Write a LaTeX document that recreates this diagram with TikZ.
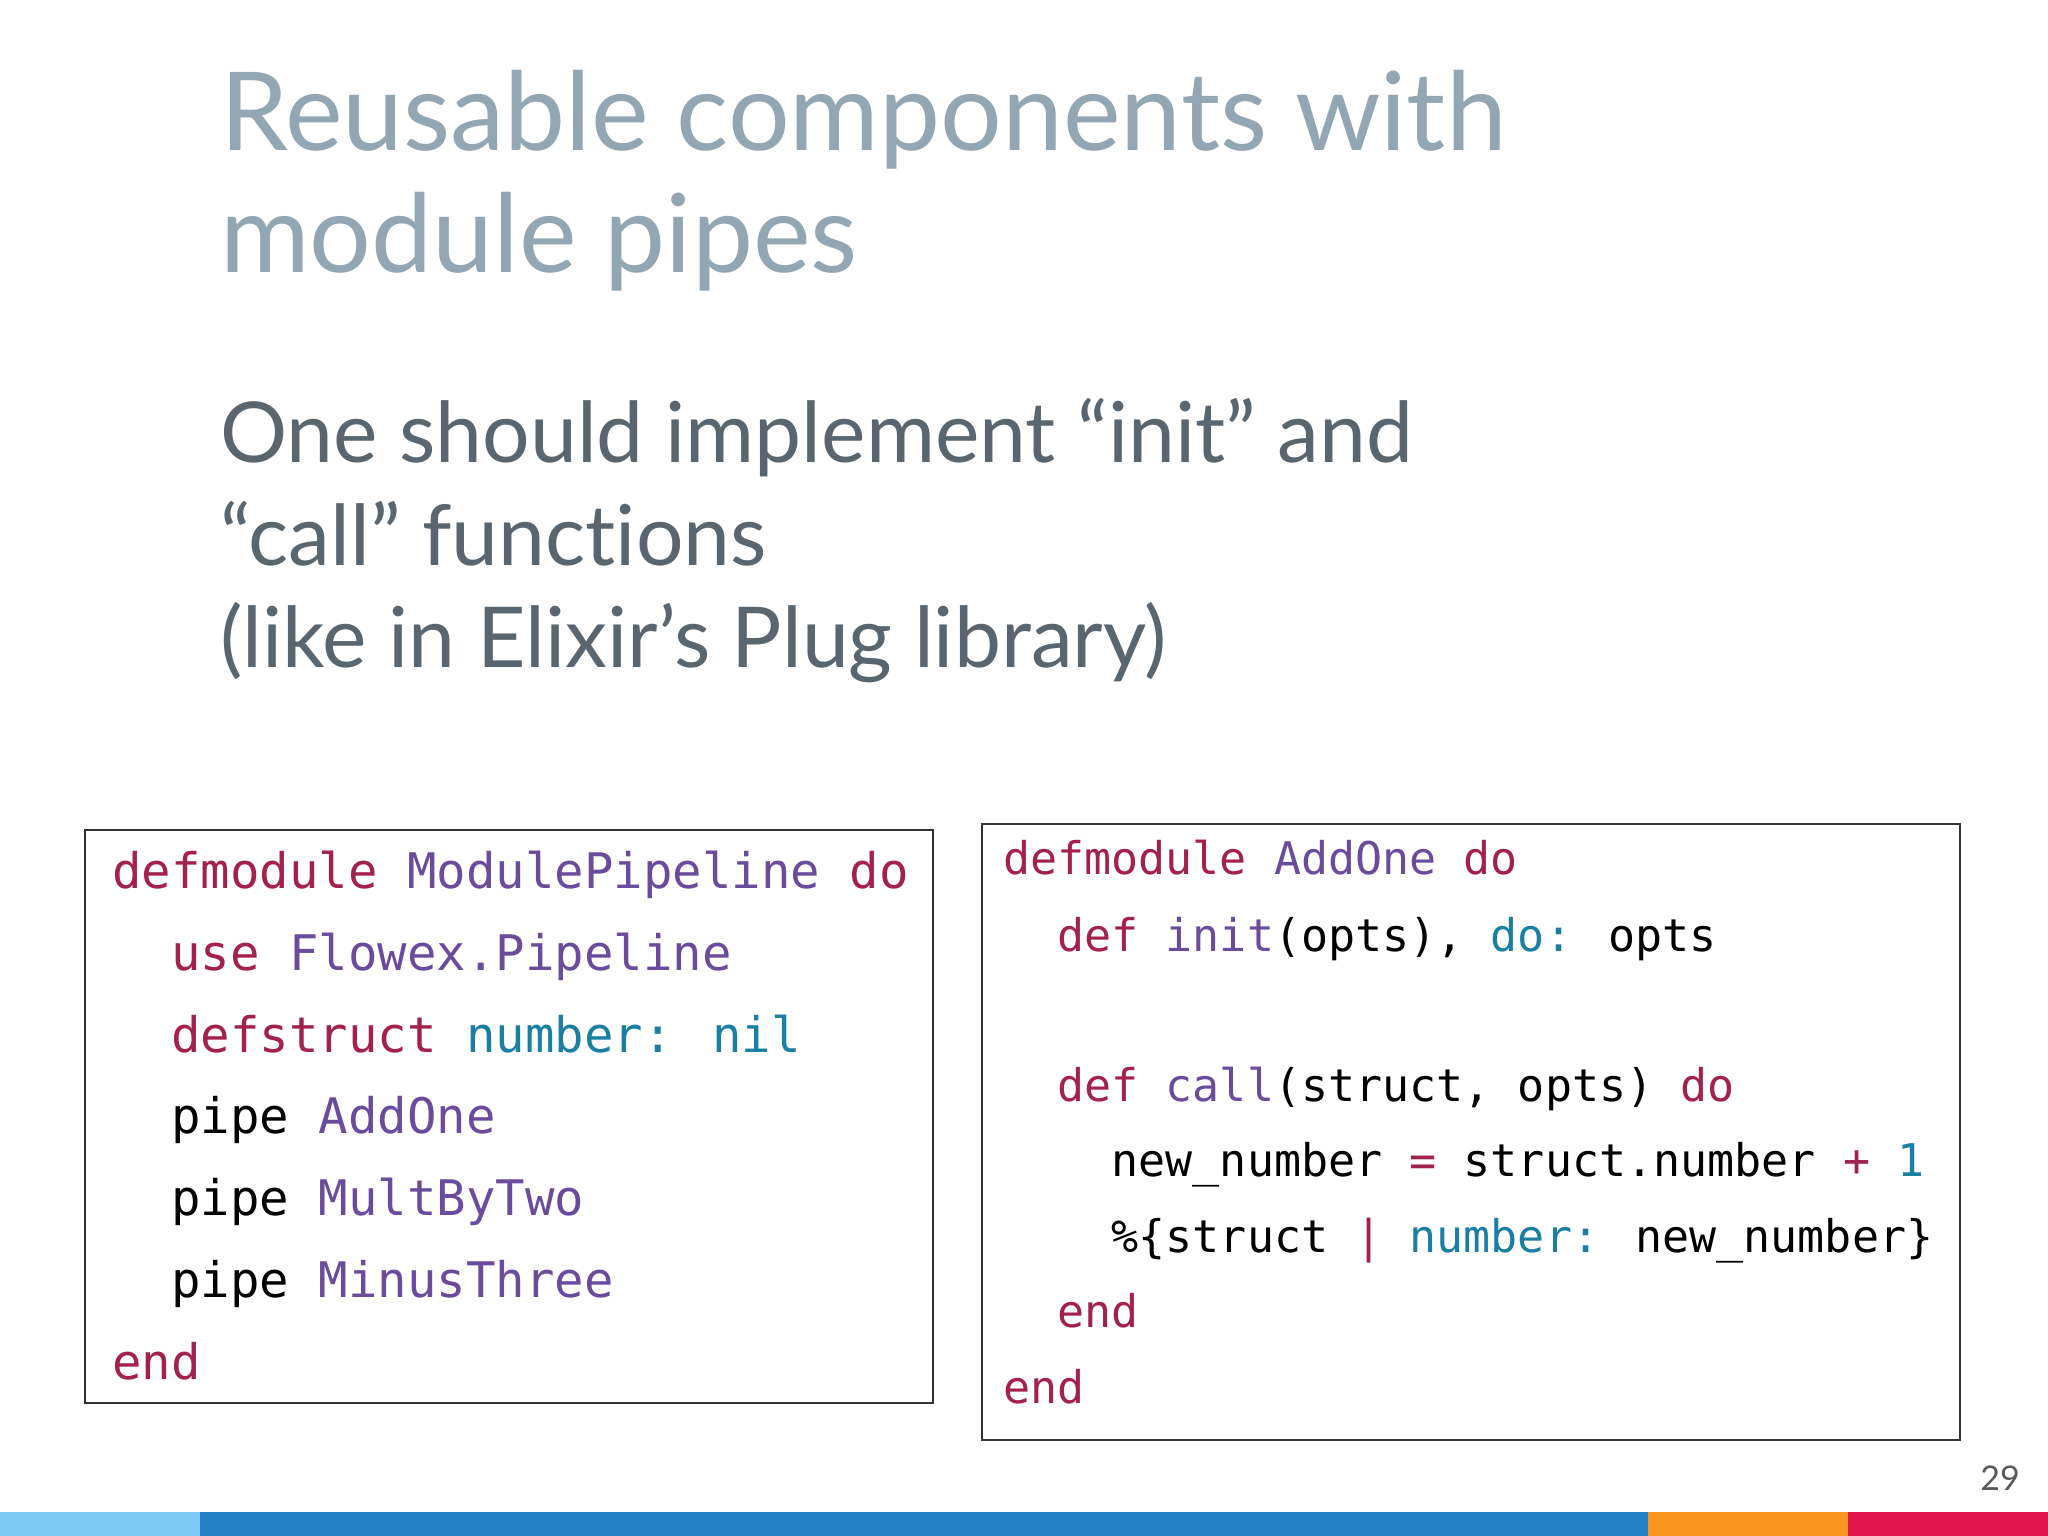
\documentclass[tikz,border=0pt]{standalone}
\usepackage{fontspec}
\setmainfont{Lato}[Ligatures=NoCommon]
\newfontfamily\code{DejaVu Sans Mono}
\definecolor{titlec}{HTML}{93A6B4}
\definecolor{bodyc}{HTML}{5A666F}
\definecolor{kw}{HTML}{A3214F}
\definecolor{md}{HTML}{6A4C9C}
\definecolor{at}{HTML}{1B7FA3}
\definecolor{barA}{HTML}{7FCBF6}
\definecolor{barB}{HTML}{2381C4}
\definecolor{barC}{HTML}{F7951D}
\definecolor{barD}{HTML}{E3154E}
\newcommand{\K}[1]{\textcolor{kw}{#1}}
\newcommand{\M}[1]{\textcolor{md}{#1}}
\newcommand{\A}[1]{\textcolor{at}{#1}}
\tikzset{
 ttl/.style={anchor=base west,inner sep=0,text=titlec,font=\fontsize{109}{120}\selectfont},
 bdy/.style={anchor=base west,inner sep=0,text=bodyc,font=\fontsize{84}{96}\selectfont},
 lc/.style={anchor=base west,inner sep=0,font=\code\fontsize{49}{60}\selectfont},
 rc/.style={anchor=base west,inner sep=0,font=\code\fontsize{45}{55}\selectfont},
 box/.style={draw=black!80,line width=1.5pt}
}
\begin{document}
\begin{tikzpicture}[x=1pt,y=-1pt]
\useasboundingbox (0,0) rectangle (2048,1536);
\fill[white] (0,0) rectangle (2048,1536);
\node[ttl] (t1) at (220,150) {Reusable components with};
\node[ttl] (t2) at (220,272) {module pipes};
\node[bdy] (b1) at (220,462) {One should implement “init” and};
\node[bdy] (b2) at (220,565) {“call” functions};
\node[bdy] (b3) at (220,667) {(like in Elixir’s Plug library)};
\draw[box] (85,830) rectangle (933,1403);
\draw[box] (982,824) rectangle (1960,1440);
\node[lc] (l1) at (112,888) {\K{defmodule} \M{ModulePipeline} \K{do}};
\node[lc] (l2) at (112,970) {\phantom{xx}\K{use} \M{Flowex.Pipeline}};
\node[lc] (l3) at (112,1052) {\phantom{xx}\K{defstruct} \A{number:} \A{nil}};
\node[lc] (l4) at (112,1133) {\phantom{xx}pipe \M{AddOne}};
\node[lc] (l5) at (112,1215) {\phantom{xx}pipe \M{MultByTwo}};
\node[lc] (l6) at (112,1297) {\phantom{xx}pipe \M{MinusThree}};
\node[lc] (l7) at (112,1379) {\K{end}};
\node[rc] (r1) at (1003,874) {\K{defmodule} \M{AddOne} \K{do}};
\node[rc] (r2) at (1003,951) {\phantom{xx}\K{def} \M{init}(opts), \A{do:} opts};
\node[rc] (r3) at (1003,1101) {\phantom{xx}\K{def} \M{call}(struct, opts) \K{do}};
\node[rc] (r4) at (1003,1176) {\phantom{xxxx}new\_number \K{=} struct.number \K{+} \A{1}};
\node[rc] (r5) at (1003,1252) {\phantom{xxxx}\%\{struct \K{|} \A{number:} new\_number\}};
\node[rc] (r6) at (1003,1327) {\phantom{xx}\K{end}};
\node[rc] (r7) at (1003,1403) {\K{end}};
\node[anchor=base east,inner sep=0,text=black!65,font=\fontsize{34}{40}\selectfont] (pg) at (2020,1490) {29};
\fill[barA] (0,1512) rectangle (200,1536);
\fill[barB] (200,1512) rectangle (1648,1536);
\fill[barC] (1648,1512) rectangle (1848,1536);
\fill[barD] (1848,1512) rectangle (2048,1536);
\end{tikzpicture}
\end{document}
